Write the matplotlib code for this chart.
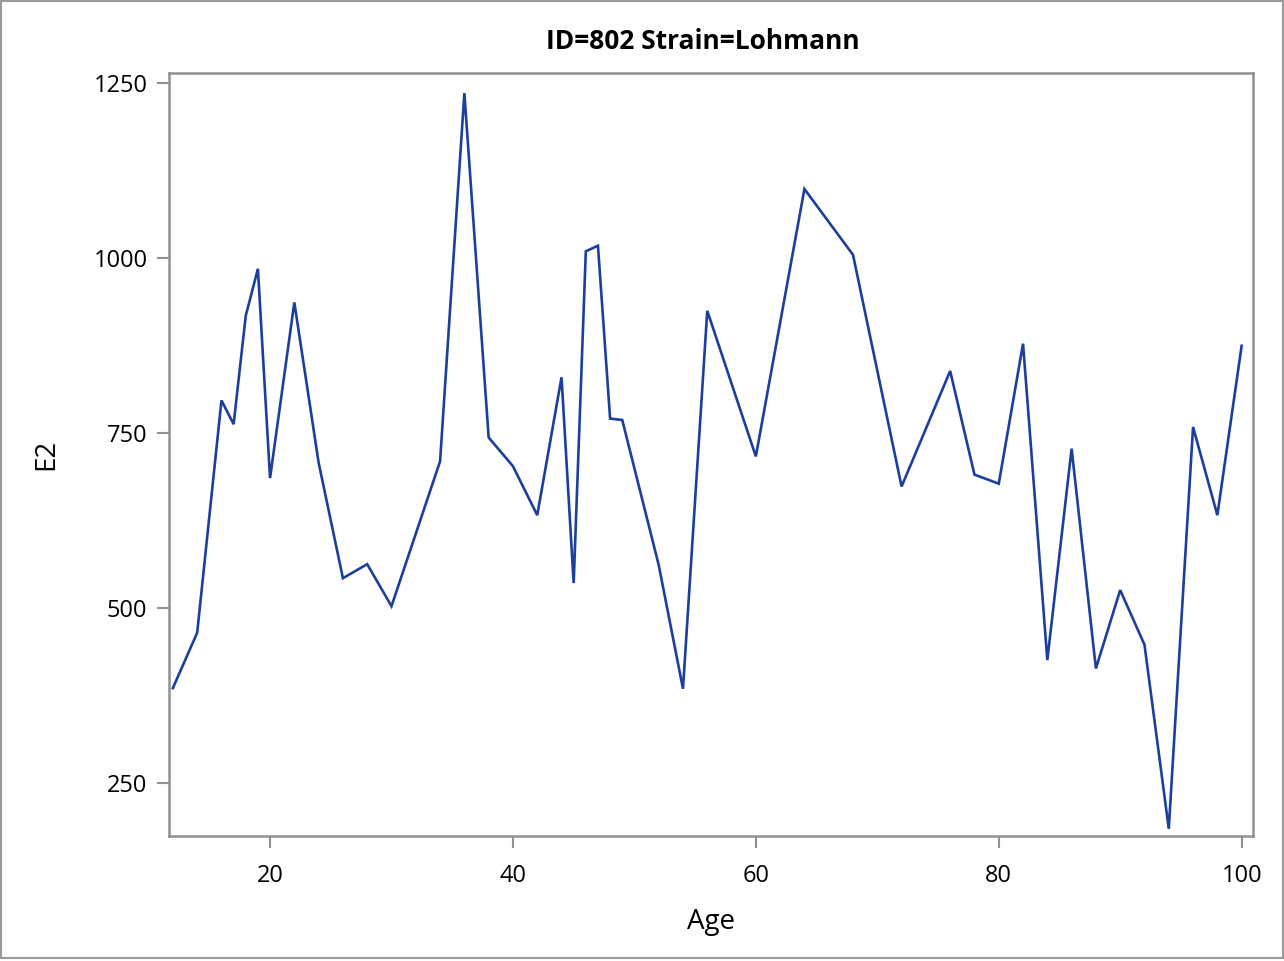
import matplotlib
matplotlib.use("Agg")
import matplotlib.pyplot as plt
from matplotlib.patches import Rectangle

age = [12, 14, 16, 17, 18, 19, 20, 22, 24, 26, 28, 30, 34, 36, 38, 40, 42, 44, 45,
       46, 47, 48, 49, 52, 54, 56, 60, 64, 68, 72, 76, 78, 80, 82, 84, 86, 88, 90,
       92, 94, 96, 98, 100]
e2 = [386, 465, 797, 763, 918, 985, 686, 937, 708, 543, 563, 503, 710, 1236, 744,
      703, 633, 830, 536, 1010, 1018, 771, 769, 562, 385, 925, 717, 1099, 1005,
      674, 839, 691, 678, 878, 426, 728, 414, 526, 448, 185, 759, 633, 875]
xticks = [20, 40, 60, 80, 100]
yticks = [250, 500, 750, 1000, 1250]
title = "ID=802 Strain=Lohmann"

W, H = 1284, 961
plt.rcParams['font.family'] = ['Open Sans', 'DejaVu Sans']
fig = plt.figure(figsize=(W / 100, H / 100), dpi=100)
fig.patch.set_facecolor('white')

left, right, top, bottom = 169, 1253.3, 73.3, 835.7
ax = fig.add_axes([left / W, (H - bottom) / H, (right - left) / W, (bottom - top) / H])
ax.plot(age, e2, color='#1c3f9e', lw=1.9, solid_joinstyle='miter')
ax.set_xlim(11.68, 100.96)
ax.set_ylim(175.1, 1264.3)
ax.set_xticks(xticks)
ax.set_yticks(yticks)
spine_col = '#8c9191'
for s in ax.spines.values():
    s.set_color(spine_col)
    s.set_linewidth(1.8)
ax.tick_params(axis='both', colors=spine_col, length=8.5, width=1.5,
               labelcolor='black', labelsize=17)
ax.tick_params(axis='x', pad=12)
ax.tick_params(axis='y', pad=7)

ax.set_xlabel('Age', fontsize=20, labelpad=14)
ax.set_ylabel('E2', fontsize=20, labelpad=24)

fig.text(703 / W, 1 - 41.5 / H, title, ha='center', va='center',
         fontsize=19, fontweight='bold')

fig.patches.append(Rectangle((1 / W, 1 - 958 / H), 1281.5 / W, 957 / H,
                             transform=fig.transFigure, fill=False,
                             edgecolor='#9a9a9a', lw=1.5, zorder=10))

fig.savefig('out.png', dpi=100, facecolor='white')
